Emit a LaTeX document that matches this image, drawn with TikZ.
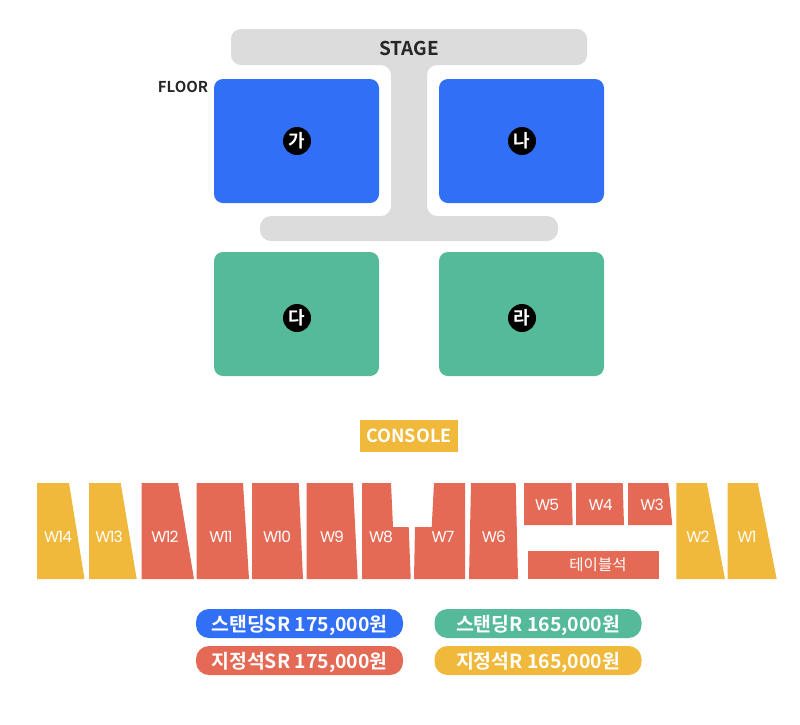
\documentclass[tikz,border=0pt]{standalone}
\usepackage{fontspec}
\usepackage{xcolor}
\usetikzlibrary{positioning}
\newfontfamily\krfont{Noto Sans CJK KR}[BoldFont=* Bold]
\newfontfamily\seatfont{Poppins}[LetterSpace=-6]
\definecolor{floorblue}{RGB}{49,111,246}
\definecolor{floorgreen}{RGB}{85,186,154}
\definecolor{seatred}{RGB}{228,106,85}
\definecolor{seatyellow}{RGB}{240,185,59}
\definecolor{stagegray}{RGB}{220,220,220}
\begin{document}
\begin{tikzpicture}[
                x=1pt, y=-1pt,
                font=\krfont,
                floorbox/.style={rectangle, rounded corners=9pt, minimum width=165pt, minimum height=124pt, inner sep=0pt},
                tagdot/.style={circle, fill=black, text=white, minimum size=28pt, inner sep=0pt, font=\krfont\bfseries\fontsize{18pt}{18pt}\selectfont},
                seatlabel/.style={text=white, inner sep=0pt, font=\seatfont\fontsize{15.5pt}{16pt}\selectfont},
                pricepill/.style={rectangle, rounded corners=13pt, minimum width=207pt, minimum height=29pt, inner sep=0pt, text height=15pt, text depth=0pt, text=white, font=\krfont\bfseries\fontsize{19.4pt}{19.4pt}\selectfont},
                darklabel/.style={text=black!85, inner sep=0pt, font=\krfont\bfseries}
                ]
                \useasboundingbox (0,0) rectangle (800,724);

                % stage with runway
                \fill[stagegray, rounded corners=10pt] (231,29) -- (587,29) -- (587,65) -- (231,65) -- cycle;
                \fill[stagegray] (391,60) -- (427,60) -- (427,220) -- (391,220) -- cycle;
                \fill[stagegray] (381,65) -- (437,65) arc[start angle=90, end angle=180, radius=10pt] -- (427,206) arc[start angle=180, end angle=270, radius=10pt] -- (381,216) arc[start angle=270, end angle=360, radius=10pt] -- (391,75) arc[start angle=0, end angle=90, radius=10pt] -- cycle;
                \fill[stagegray, rounded corners=11pt] (260,216) -- (558,216) -- (558,241) -- (260,241) -- cycle;
                \node[darklabel, font=\krfont\bfseries\fontsize{19pt}{19pt}\selectfont] (stage) at (409,48) {STAGE};
                \node[darklabel, font=\krfont\bfseries\fontsize{15pt}{15pt}\selectfont] (floor) at (183,87) {FLOOR};

                \node[floorbox, fill=floorblue] (ga) at (296.5,141) {};
                \node[floorbox, fill=floorblue] (na) at (521.5,141) {};
                \node[floorbox, fill=floorgreen] (da) at (296.5,314) {};
                \node[floorbox, fill=floorgreen] (ra) at (521.5,314) {};
                \node[tagdot] (gatag) at (297,141) {가};
                \node[tagdot] (natag) at (522,141) {나};
                \node[tagdot] (datag) at (297,318) {다};
                \node[tagdot] (ratag) at (522,318) {라};

                \node[rectangle, fill=seatyellow, text=white, minimum width=98pt, minimum height=32pt, inner sep=0pt, font=\krfont\bfseries\fontsize{18pt}{18pt}\selectfont] (console) at (409,436) {CONSOLE};

                % yellow blocks
                \fill[seatyellow] (37,483) -- (69,483) -- (84.5,579) -- (37,579) -- cycle;
                \fill[seatyellow] (89,483) -- (120.7,483) -- (136.7,579) -- (89,579) -- cycle;
                \fill[seatyellow] (676.3,483) -- (706.7,483) -- (725,579) -- (676.3,579) -- cycle;
                \fill[seatyellow] (727.7,483) -- (757.7,483) -- (776.7,579) -- (727.7,579) -- cycle;

                % red blocks
                \fill[seatred] (141.7,483) -- (178,483) -- (194,579) -- (141.7,579) -- cycle;
                \fill[seatred] (196.7,483) -- (243,483) -- (249,579) -- (196.7,579) -- cycle;
                \fill[seatred] (252,483) -- (298.7,483) -- (303,579) -- (252,579) -- cycle;
                \fill[seatred] (306.7,483) -- (353,483) -- (357.7,579) -- (306.7,579) -- cycle;
                \fill[seatred] (362,483) -- (391,483) -- (393,527) -- (408.7,527) -- (410.7,579) -- (362,579) -- cycle;
                \fill[seatred] (434,483) -- (465,483) -- (465,579) -- (414,579) -- (415,527) -- (431.7,527) -- cycle;
                \fill[seatred] (471,483) -- (515.7,483) -- (518,579) -- (469,579) -- cycle;
                \fill[seatred] (524,483) -- (571.5,483) -- (572.7,525) -- (524,525) -- cycle;
                \fill[seatred] (576,483) -- (622.7,483) -- (624,525) -- (576,525) -- cycle;
                \fill[seatred] (628,483) -- (668.3,483) -- (672.3,525) -- (628,525) -- cycle;
                \fill[seatred] (528.3,551) -- (659,551) -- (659,579) -- (528.3,579) -- cycle;

                \node[seatlabel] (w14) at (58,537) {W14};
                \node[seatlabel] (w13) at (109,537) {W13};
                \node[seatlabel] (w12) at (165,537) {W12};
                \node[seatlabel] (w11) at (221,537) {W11};
                \node[seatlabel] (w10) at (277,537) {W10};
                \node[seatlabel] (w9) at (332,537) {W9};
                \node[seatlabel] (w8) at (381,537) {W8};
                \node[seatlabel] (w7) at (443,537) {W7};
                \node[seatlabel] (w6) at (494,537) {W6};
                \node[seatlabel] (w5) at (547,505) {W5};
                \node[seatlabel] (w4) at (600.7,505) {W4};
                \node[seatlabel] (w3) at (652,505) {W3};
                \node[seatlabel] (w2) at (698,537) {W2};
                \node[seatlabel] (w1) at (747,537) {W1};
                \node[text=white, inner sep=0pt, font=\krfont\fontsize{15.5pt}{16pt}\selectfont] (tableseat) at (598,565) {테이블석};

                % price legend
                \node[pricepill, fill=floorblue] (standsr) at (299.5,623.5) {스탠딩SR 175,000원};
                \node[pricepill, fill=floorgreen] (standr) at (538,623.5) {스탠딩R 165,000원};
                \node[pricepill, fill=seatred] (fixedsr) at (299.5,660.5) {지정석SR 175,000원};
                \node[pricepill, fill=seatyellow] (fixedr) at (538,660.5) {지정석R 165,000원};
            \end{tikzpicture}
\end{document}
